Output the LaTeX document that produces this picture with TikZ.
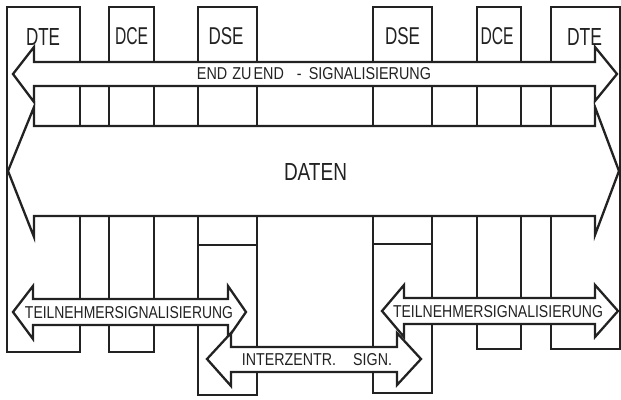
\documentclass[tikz,border=0pt]{standalone}
\usepackage{fontspec}
\usepackage{graphicx}
\setmainfont{Liberation Sans}
\definecolor{ink}{HTML}{222222}
\tikzset{
  col/.style={draw=ink, line width=1.2pt},
  blockarrow/.style={draw=ink, fill=white, line width=2.3pt, line join=miter},
  lbl/.style={inner sep=0pt, text=ink, anchor=center}
}
\newcommand{\fit}[3]{\resizebox{#1pt}{#2pt}{#3}}
\begin{document}
\begin{tikzpicture}[x=1pt, y=-1pt]
\useasboundingbox (0,0) rectangle (621,399);
% columns
\draw[col] (7,7) rectangle (80,352);
\draw[col] (109,7) rectangle (154,352);
\draw[col] (198,7) rectangle (257,395);
\draw[col] (198,245) -- (257,245);
\draw[col] (373,7) rectangle (432,393);
\draw[col] (373,244) -- (432,244);
\draw[col] (477,7) rectangle (521,349);
\draw[col] (551,7) rectangle (620,349);
% block arrows
\draw[blockarrow] (13,74) -- (34,47) -- (34,62) -- (595,62) -- (595,47) -- (617,74) -- (595,101) -- (595,86) -- (34,86) -- (34,102) -- cycle;
\draw[blockarrow] (8,171) -- (34,107) -- (34,126) -- (595,126) -- (595,107) -- (619,171) -- (595,235) -- (595,216) -- (34,216) -- (34,237) -- cycle;
\draw[blockarrow] (13,312) -- (33,286) -- (33,299) -- (228,299) -- (228,286) -- (246,312) -- (228,338) -- (228,325) -- (33,325) -- (33,339) -- cycle;
\draw[blockarrow] (382,311) -- (404,285) -- (404,298) -- (595,298) -- (595,285) -- (618,311) -- (595,337) -- (595,324) -- (404,324) -- (404,337) -- cycle;
\draw[blockarrow] (207,359) -- (231,333) -- (231,347) -- (397,347) -- (397,333) -- (421,359) -- (397,385) -- (397,372) -- (231,372) -- (231,386) -- cycle;
% labels
\node[lbl] (dte1) at (43,36.5) {\fit{34}{17}{DTE}};
\node[lbl] (dce1) at (131.5,36.5) {\fit{33}{17}{DCE}};
\node[lbl] (dse1) at (226,36.5) {\fit{35}{17}{DSE}};
\node[lbl] (dse2) at (402.5,36.5) {\fit{35}{17}{DSE}};
\node[lbl] (dce2) at (497,36.5) {\fit{33}{17}{DCE}};
\node[lbl] (dte2) at (584.5,36.5) {\fit{35}{17}{DTE}};
\node[lbl] (end) at (314,74) {\fit{234}{12}{END\hspace{0.35em}ZU\hspace{0.15em}END\hspace{0.9em}-\hspace{0.5em}SIGNALISIERUNG}};
\node[lbl] (daten) at (315.5,171.5) {\fit{63}{17}{DATEN}};
\node[lbl] (teil1) at (129,312.5) {\fit{208}{12}{TEILNEHMERSIGNALISIERUNG}};
\node[lbl] (teil2) at (498,311.5) {\fit{210}{12}{TEILNEHMERSIGNALISIERUNG}};
\node[lbl] (inter) at (317,359.5) {\fit{150}{12}{INTERZENTR.\hspace{1.2em}SIGN.}};
\end{tikzpicture}
\end{document}
